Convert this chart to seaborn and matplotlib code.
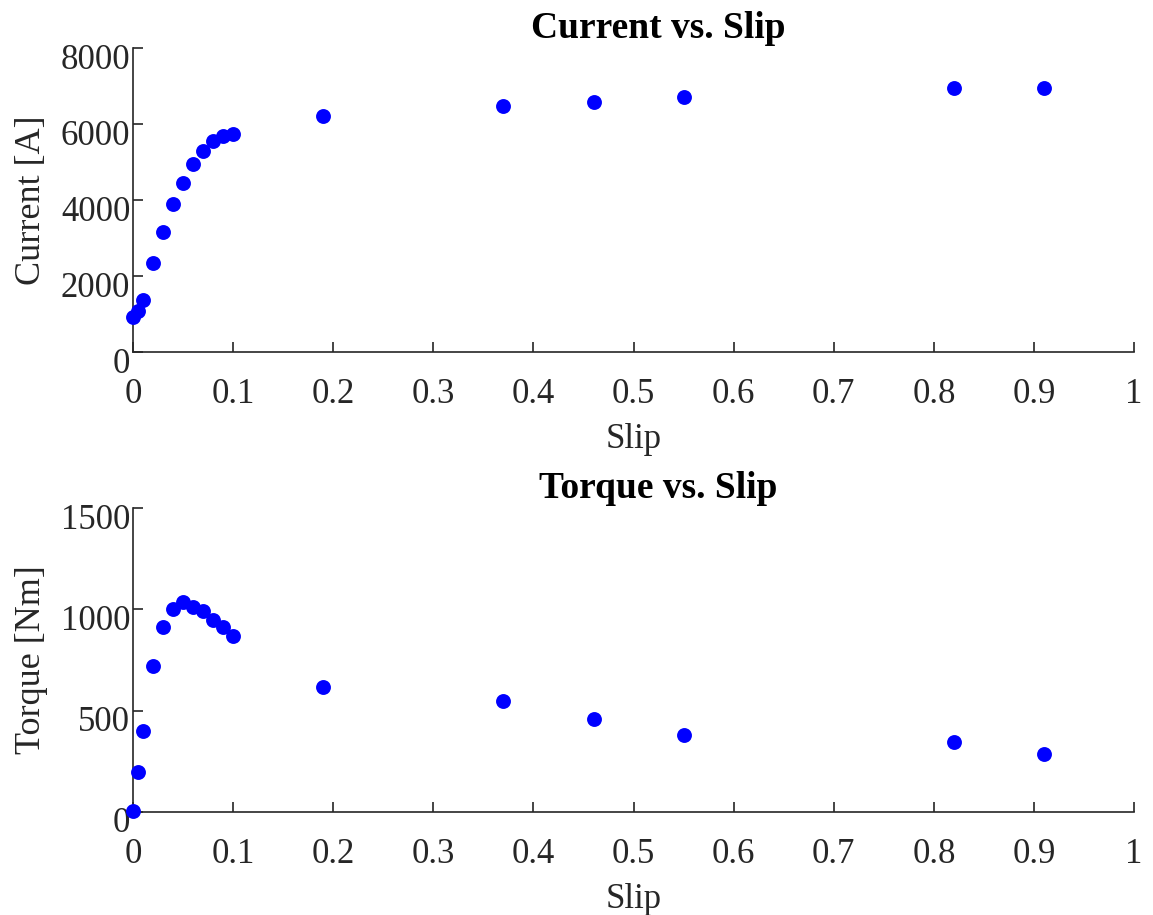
import numpy as np
import pandas as pd
import seaborn as sns
import matplotlib.pyplot as plt
import matplotlib.transforms as mtransforms

# values
slip = [0.0, 0.005, 0.01, 0.02, 0.03, 0.04, 0.05, 0.06, 0.07, 0.08, 0.09, 0.1,
        0.19, 0.37, 0.46, 0.55, 0.82, 0.91]
current = [921, 1079, 1361, 2330, 3164, 3894, 4456, 4942, 5301, 5549, 5689, 5741,
           6216, 6462, 6586, 6718, 6955, 6955]
torque = [5, 197, 400, 718, 913, 1000, 1037, 1013, 992, 946, 913, 869,
          617, 548, 457, 379, 344, 287]

x_ticks = [0, 0.1, 0.2, 0.3, 0.4, 0.5, 0.6, 0.7, 0.8, 0.9, 1]
x_ticklabels = ["0", "0.1", "0.2", "0.3", "0.4", "0.5", "0.6", "0.7", "0.8", "0.9", "1"]
cur_ticks = [0, 2000, 4000, 6000, 8000]
tq_ticks = [0, 500, 1000, 1500]

df = pd.DataFrame({"Slip": slip, "Current": current, "Torque": torque})

sns.set_theme(style="ticks")
plt.rcParams['font.family'] = ['Liberation Serif', 'DejaVu Serif']
plt.rcParams['axes.edgecolor'] = '#262626'
plt.rcParams['xtick.color'] = '#262626'
plt.rcParams['ytick.color'] = '#262626'
plt.rcParams['text.color'] = '#262626'
plt.rcParams['axes.labelcolor'] = '#262626'

fig = plt.figure(figsize=(11.53, 9.15), dpi=100)
ax1 = fig.add_axes([0.1154, 0.6153, 0.8682, 0.3322])
ax2 = fig.add_axes([0.1154, 0.1126, 0.8682, 0.3322])

panels = [
    (ax1, "Current", "Current [A]", "Current vs. Slip", cur_ticks),
    (ax2, "Torque", "Torque [Nm]", "Torque vs. Slip", tq_ticks),
]

for ax, col, ylab, title, yt in panels:
    sns.scatterplot(data=df, x="Slip", y=col, ax=ax, color="#0000ff",
                    s=115, linewidth=0, legend=False, clip_on=False, zorder=3)
    ax.set_xlim(0, 1)
    ax.set_ylim(yt[0], yt[-1])
    ax.set_xticks(x_ticks)
    ax.set_xticklabels(x_ticklabels)
    ax.set_yticks(yt)
    ax.set_yticklabels([str(v) for v in yt])
    ax.tick_params(direction="in", length=7, width=1.2, labelsize=25)
    ax.tick_params(axis="x", pad=18.5)
    ax.tick_params(axis="y", pad=2)
    ax.set_xlabel("Slip", fontsize=25, labelpad=9)
    ax.set_ylabel(ylab, fontsize=26, labelpad=9)
    ax.set_title(title, fontsize=27, fontweight="bold", color="black",
                 x=0.525, pad=7)
    for sp in ["top", "right"]:
        ax.spines[sp].set_visible(False)
    for sp in ["left", "bottom"]:
        ax.spines[sp].set_linewidth(1.2)
    # MATLAB style: y tick labels sit slightly low
    off = mtransforms.ScaledTranslation(0, -8 / 100, fig.dpi_scale_trans)
    for lab in ax.get_yticklabels():
        lab.set_transform(lab.get_transform() + off)

fig.savefig("out.png", dpi=100)
